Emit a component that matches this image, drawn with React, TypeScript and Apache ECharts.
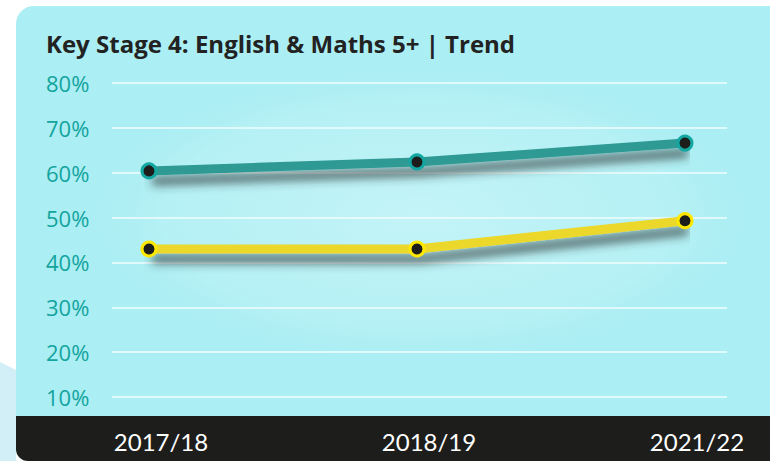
import React, { useEffect, useRef } from "react";
import * as echarts from "echarts";

const title = "Key Stage 4: English & Maths 5+ | Trend";
const categories = ["2017/18", "2018/19", "2021/22"];
const tealValues = [60.4, 62.4, 66.6];
const yellowValues = [43.0, 43.0, 49.3];
const yMin = 10;
const yMax = 80;
const yStep = 10;

export default function App() {
  const ref = useRef<HTMLDivElement>(null);
  useEffect(() => {
    if (!ref.current) return;
    const chart = echarts.init(ref.current, null, { renderer: "svg" });
    const lineShadow = {
      shadowColor: "rgba(40,50,50,0.7)",
      shadowBlur: 10,
      shadowOffsetX: 3,
      shadowOffsetY: 10,
    };
    chart.setOption({
      animation: false,
      backgroundColor: "#ffffff",
      graphic: {
        elements: [
          {
            type: "polygon",
            z: -30,
            shape: { points: [[0, 362], [16, 370], [16, 461], [0, 461]] },
            style: { fill: "#D2EEF7" },
            silent: true,
          },
          {
            type: "rect",
            z: -20,
            shape: { x: 16, y: 6, width: 780, height: 455, r: [18, 0, 0, 12] },
            style: { fill: "#ABEEF3" },
            silent: true,
          },
          {
            type: "ellipse",
            z: -19,
            shape: { cx: 420, cy: 215, rx: 340, ry: 150 },
            style: {
              fill: {
                type: "radial",
                x: 0.5,
                y: 0.5,
                r: 0.5,
                colorStops: [
                  { offset: 0, color: "rgba(205,246,249,0.7)" },
                  { offset: 0.75, color: "rgba(195,244,247,0.45)" },
                  { offset: 1, color: "rgba(171,238,243,0)" },
                ],
              },
            },
            silent: true,
          },
          {
            type: "rect",
            z: -18,
            shape: { x: 16, y: 416, width: 780, height: 45, r: [0, 0, 0, 12] },
            style: { fill: "#1D1D1B" },
            silent: true,
          },
          {
            type: "text",
            z: 5,
            x: 46,
            y: 43,
            style: {
              text: title,
              fill: "#222222",
              font: "bold 24px 'Open Sans'",
              verticalAlign: "middle",
            },
          },
        ],
      },
      grid: [
        { left: 112, right: 43, top: 83, bottom: 64 },
        { left: 149, right: 85, top: 83, bottom: 64 },
      ],
      xAxis: [
        {
          gridIndex: 0,
          type: "category",
          data: categories,
          show: false,
        },
        {
          gridIndex: 1,
          type: "category",
          data: categories,
          boundaryGap: false,
          axisLine: { show: false },
          axisTick: { show: false },
          splitLine: { show: false },
          axisLabel: {
            color: "#ffffff",
            fontFamily: "Lato",
            fontSize: 24,
            margin: 44,
            verticalAlign: "middle",
            padding: [0, 0, 0, 24],
          },
        },
      ],
      yAxis: [
        {
          gridIndex: 0,
          type: "value",
          min: yMin,
          max: yMax,
          interval: yStep,
          axisLine: { show: false },
          axisTick: { show: false },
          splitLine: { lineStyle: { color: "#F2FCFD", width: 1.5 } },
          axisLabel: {
            color: "#13A49E",
            fontFamily: "Open Sans",
            fontSize: 22,
            fontWeight: 500,
            align: "left",
            margin: 66,
            formatter: "{value}%",
          },
        },
        {
          gridIndex: 1,
          type: "value",
          min: yMin,
          max: yMax,
          interval: yStep,
          show: false,
        },
      ],
      series: [
        {
          type: "line",
          name: "Teal",
          xAxisIndex: 1,
          yAxisIndex: 1,
          data: tealValues,
          symbol: "circle",
          symbolSize: 14,
          lineStyle: { color: "#2D9A93", width: 9, ...lineShadow },
          itemStyle: {
            color: "#1D1D1B",
            borderColor: "#14A7A2",
            borderWidth: 3,
          },
          z: 3,
        },
        {
          type: "line",
          name: "Yellow",
          xAxisIndex: 1,
          yAxisIndex: 1,
          data: yellowValues,
          symbol: "circle",
          symbolSize: 14,
          lineStyle: { color: "#EBD82A", width: 9, ...lineShadow },
          itemStyle: {
            color: "#1D1D1B",
            borderColor: "#FFE800",
            borderWidth: 3,
          },
          z: 3,
        },
      ],
    });
    return () => chart.dispose();
  }, []);
  return (
    <div
      ref={ref}
      style={{ position: "fixed", left: 0, top: 0, width: 770, height: 461 }}
    />
  );
}
